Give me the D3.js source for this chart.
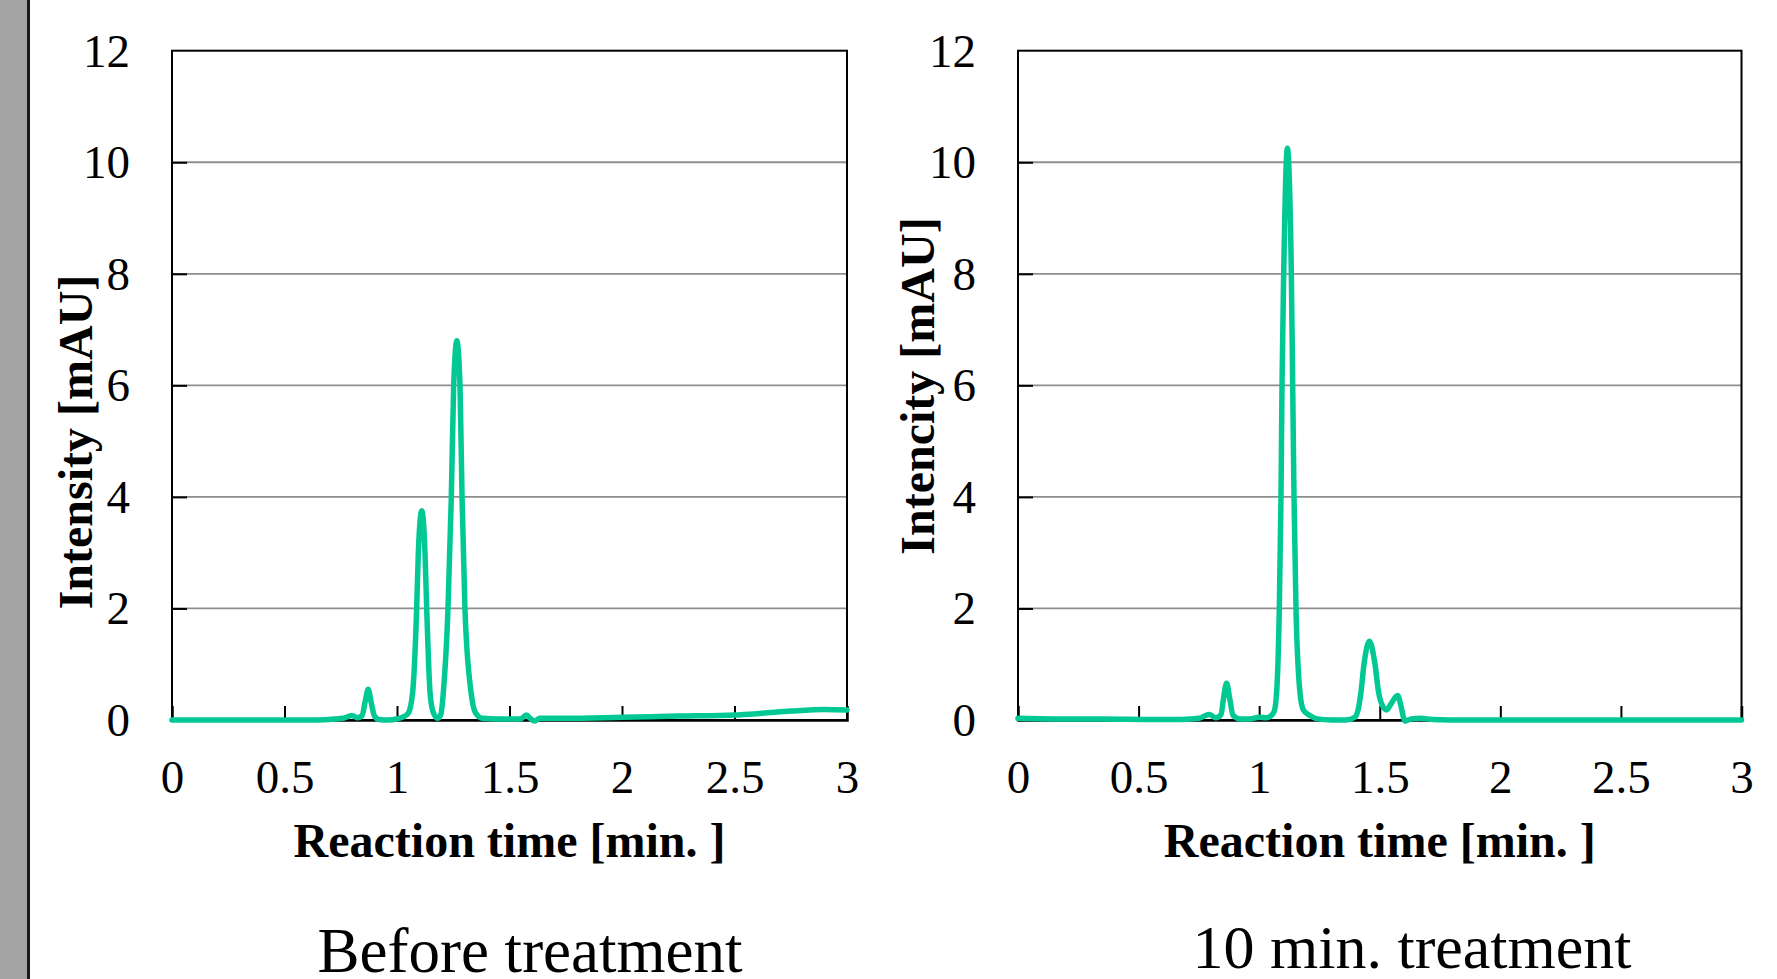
<!DOCTYPE html>
<html>
<head>
<meta charset="utf-8">
<script src="https://cdn.jsdelivr.net/npm/d3@7"></script>
<style>
  html, body { margin: 0; padding: 0; background: #fff; }
  svg { display: block; }
  text { font-family: "Liberation Serif", "Times New Roman", serif; fill: #000; }
</style>
</head>
<body>
<svg id="chart" width="1777" height="979"></svg>
<script>
// Chromatogram traces: [reaction time (min), intensity (mAU)]
const beforeTrace = [
  [0.00, 0.00], [0.20, 0.00], [0.40, 0.00], [0.60, 0.00], [0.70, 0.01],
  [0.76, 0.03], [0.80, 0.08], [0.825, 0.04], [0.845, 0.08], [0.858, 0.32],
  [0.872, 0.55], [0.886, 0.30], [0.900, 0.07], [0.92, 0.01], [0.96, 0.00],
  [1.00, 0.02], [1.03, 0.06], [1.050, 0.12], [1.0697, 0.50], [1.0874, 2.00],
  [1.0948, 3.00], [1.110, 3.75], [1.1244, 3.00], [1.132, 2.00], [1.1467, 0.50],
  [1.160, 0.15], [1.180, 0.03], [1.195, 0.10], [1.206, 0.50], [1.2267, 2.00],
  [1.2414, 4.00], [1.252, 6.00], [1.266, 6.80], [1.280, 6.00], [1.289, 4.00],
  [1.302, 2.00], [1.329, 0.50], [1.350, 0.12], [1.38, 0.03], [1.45, 0.02],
  [1.55, 0.02], [1.575, 0.09], [1.592, 0.03], [1.612, -0.02], [1.635, 0.03],
  [1.75, 0.03], [2.00, 0.05], [2.25, 0.07], [2.50, 0.09], [2.62, 0.12],
  [2.75, 0.16], [2.90, 0.19], [3.00, 0.18]
];

const treatedTrace = [
  [0.00, 0.03], [0.15, 0.02], [0.35, 0.02], [0.55, 0.01], [0.68, 0.01],
  [0.75, 0.03], [0.793, 0.10], [0.820, 0.04], [0.842, 0.10], [0.852, 0.38],
  [0.865, 0.66], [0.878, 0.38], [0.892, 0.08], [0.92, 0.02], [0.96, 0.02],
  [1.00, 0.05], [1.03, 0.04], [1.050, 0.08], [1.062, 0.15], [1.0725, 0.50],
  [1.0835, 2.00], [1.0905, 4.00], [1.0947, 6.00], [1.1017, 8.00], [1.117, 10.25],
  [1.1334, 8.00], [1.139, 6.00], [1.1445, 4.00], [1.1527, 2.00], [1.169, 0.50],
  [1.183, 0.18], [1.210, 0.08], [1.24, 0.02], [1.30, 0.00], [1.36, 0.00],
  [1.397, 0.05], [1.411, 0.20], [1.4222, 0.50], [1.4347, 1.00], [1.457, 1.41],
  [1.4803, 1.00], [1.495, 0.50], [1.512, 0.25], [1.529, 0.18], [1.548, 0.30],
  [1.574, 0.44], [1.588, 0.25], [1.600, 0.02], [1.607, -0.02], [1.63, 0.02],
  [1.67, 0.03], [1.72, 0.01], [1.85, 0.00], [2.20, 0.00], [2.60, 0.00],
  [3.00, 0.00]
];

// Axis ticks and labels
const xTicks = [0, 0.5, 1, 1.5, 2, 2.5, 3];
const yTicks = [0, 2, 4, 6, 8, 10, 12];
const xTitle = "Reaction time [min. ]";
const yTitles = ["Intensity [mAU]", "Intencity [mAU]"];
const captions = ["Before treatment", "10 min. treatment"];

const svg = d3.select("#chart");
const lineColor = "#02c994";
const font = '"Liberation Serif", "Times New Roman", serif';

// grey side strip on the left edge
svg.append("rect").attr("x", 0).attr("y", 0).attr("width", 27).attr("height", 979).attr("fill", "#a3a3a3");
svg.append("rect").attr("x", 27).attr("y", 0).attr("width", 3).attr("height", 979).attr("fill", "#1a1a1a");

const panels = [
  { trace: beforeTrace, x0: 172, x1: 847, yTitle: yTitles[0], yTitleX: 92, yTitleY: 442,
    caption: captions[0], capX: 530, capY: 972, capSize: 63 },
  { trace: treatedTrace, x0: 1018, x1: 1741.5, yTitle: yTitles[1], yTitleX: 934, yTitleY: 386,
    caption: captions[1], capX: 1412, capY: 968, capSize: 62 }
];

const yTop = 50.7, yBottom = 720;

panels.forEach(p => {
  const x = d3.scaleLinear().domain([0, 3]).range([p.x0, p.x1]);
  const y = d3.scaleLinear().domain([0, 12]).range([yBottom, yTop]);
  const g = svg.append("g");

  // horizontal gridlines
  g.append("g").selectAll("line")
    .data(yTicks.filter(v => v > 0 && v < 12))
    .join("line")
    .attr("x1", p.x0).attr("x2", p.x1)
    .attr("y1", d => y(d)).attr("y2", d => y(d))
    .attr("stroke", "#8e8e8e").attr("stroke-width", 1.8);

  // plot frame
  g.append("rect")
    .attr("x", p.x0).attr("y", yTop)
    .attr("width", p.x1 - p.x0).attr("height", yBottom - yTop)
    .attr("fill", "none").attr("stroke", "#000").attr("stroke-width", 2);

  // left axis: inward ticks, labels on the left
  const yAxis = d3.axisLeft(y).tickValues(yTicks).tickSize(-15).tickPadding(42)
    .tickFormat(d3.format("d"));
  const ya = g.append("g").attr("transform", `translate(${p.x0},0)`).call(yAxis);
  ya.select(".domain").remove();
  ya.selectAll(".tick line").attr("stroke", "#000").attr("stroke-width", 2)
    .filter(d => d === 0 || d === 12).remove();
  ya.selectAll(".tick text")
    .attr("font-family", font).attr("font-size", 47).attr("fill", "#000")
    .attr("dy", "0.33em");

  // bottom axis: inward ticks, labels below
  const xAxis = d3.axisBottom(x).tickValues(xTicks).tickSize(-14).tickPadding(0)
    .tickFormat(d => String(d));
  const xa = g.append("g").attr("transform", `translate(0,${yBottom})`).call(xAxis);
  xa.select(".domain").attr("stroke", "#000").attr("stroke-width", 2.5);
  xa.selectAll(".tick line").attr("stroke", "#000").attr("stroke-width", 2)
    .filter(d => d === 0 || d === 3).remove();
  xa.selectAll(".tick text")
    .attr("font-family", font).attr("font-size", 47).attr("fill", "#000")
    .attr("y", 73).attr("dy", 0);

  // axis titles
  g.append("text")
    .attr("x", (p.x0 + p.x1) / 2).attr("y", 857)
    .attr("text-anchor", "middle").attr("font-size", 48).attr("font-weight", "bold")
    .text(xTitle);
  g.append("text")
    .attr("transform", `translate(${p.yTitleX},${p.yTitleY}) rotate(-90)`)
    .attr("text-anchor", "middle").attr("font-size", 48).attr("font-weight", "bold")
    .text(p.yTitle);

  // chromatogram trace
  const line = d3.line()
    .x(d => x(d[0])).y(d => y(d[1]))
    .curve(d3.curveMonotoneX);
  g.append("path")
    .datum(p.trace)
    .attr("d", line)
    .attr("fill", "none").attr("stroke", lineColor)
    .attr("stroke-width", 5.5).attr("stroke-linejoin", "round").attr("stroke-linecap", "round");

  // panel caption
  g.append("text")
    .attr("x", p.capX).attr("y", p.capY)
    .attr("text-anchor", "middle").attr("font-size", p.capSize)
    .text(p.caption);
});
</script>
</body>
</html>
